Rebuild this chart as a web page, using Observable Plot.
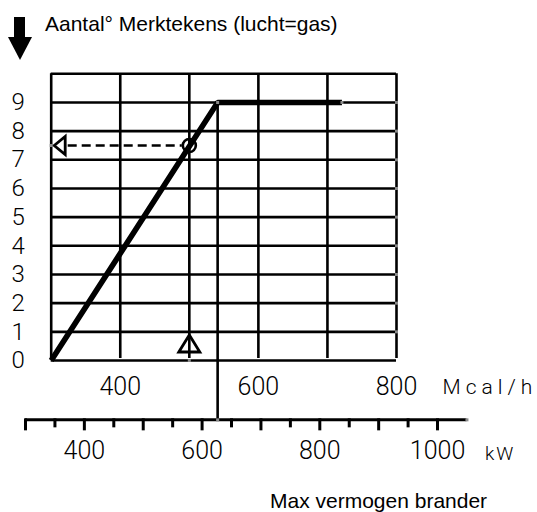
<!DOCTYPE html>
<html>
<head>
<meta charset="utf-8">
<script src="https://cdn.jsdelivr.net/npm/d3@7"></script>
<script src="https://cdn.jsdelivr.net/npm/@observablehq/plot@0.6"></script>
<style>
  body { margin: 0; background: #fff; }
  #wrap { position: relative; width: 537px; height: 512px; overflow: hidden; background: #fff; }
  #wrap svg { position: absolute; left: 0; top: 0; }
  .lbl { position: absolute; font-family: "Liberation Sans", Arial, sans-serif; font-size: 21px; line-height: 1; color: #000; white-space: nowrap; }
  #title { left: 45px; top: 13px; }
  #caption { left: 270px; top: 490px; }
  #arrow-shaft { position: absolute; left: 13.5px; top: 17px; width: 11.5px; height: 21px; background: #000; }
  #arrow-head { position: absolute; left: 7.5px; top: 37px; width: 0; height: 0;
    border-left: 12px solid transparent; border-right: 12px solid transparent; border-top: 23px solid #000; }
</style>
</head>
<body>
<div id="wrap">
  <div id="arrow-shaft"></div>
  <div id="arrow-head"></div>
  <div class="lbl" id="title">Aantal° Merktekens (lucht=gas)</div>
  <div class="lbl" id="caption">Max vermogen brander</div>
</div>
<script>
// ---- data ----
const markLevels = [0, 1, 2, 3, 4, 5, 6, 7, 8, 9, 10];      // horizontal grid lines
const markTickLabels = [0, 1, 2, 3, 4, 5, 6, 7, 8, 9];      // "Aantal° Merktekens"
const mcalGrid = [300, 400, 500, 600, 700, 800];           // vertical grid lines (Mcal/h)
const mcalTickLabels = [400, 600, 800];
const kwTicksMajor = [300, 400, 500, 600, 700, 800, 900, 1000];
const kwTicksMinor = [350, 450, 550, 650, 750, 850, 950];
const kwTickLabels = [400, 600, 800, 1000];
const kwAxisRange = [300, 1050];
const curveMcal = [300, 541, 721];                         // burner curve
const curveMarks = [0, 9, 9];
const readingMcal = 500;                                   // example reading
const readingMarks = 7.5;
const mcalUnit = "Mcal/h";
const kwUnit = "kW";
const kwAxisLevel = -2.07;                                 // kW scale drawn below the grid
// alignment of the kW scale with the Mcal/h scale (as drawn in the chart)
const kwToMcal = d3.scaleLinear([300, 1000], [262.8, 859.4]);

// ---- derived tables ----
const curve = curveMcal.map((x, i) => ({x, y: curveMarks[i]}));
const kink = curve[1];
const lineEnds = [
  ...markLevels.slice(1, 10).map(y => ({x: 800, y})),
  curve[1], curve[2],
  {x: readingMcal, y: 0}, {x: 300, y: readingMarks},
  {x: kink.x, y: kwAxisLevel}, {x: kwToMcal(kwAxisRange[1]), y: kwAxisLevel}
];

const numFont = "Roboto, 'DejaVu Sans', sans-serif";
const numWeight = 300;

const upTriangle = {draw(ctx) { ctx.moveTo(-10.5, -8.5); ctx.lineTo(0, -25.5); ctx.lineTo(10.5, -8.5); ctx.closePath(); }};
const leftTriangle = {draw(ctx) { ctx.moveTo(0, 0); ctx.lineTo(11, -9); ctx.lineTo(11, 9); ctx.closePath(); }};

const plot = Plot.plot({
  width: 537,
  height: 512,
  margin: 0,
  x: {domain: [300, 800], range: [50.7, 396], axis: null},
  y: {domain: [0, 10], range: [360, 73.3], axis: null},
  style: {background: "transparent", overflow: "visible"},
  marks: [
    // grid
    Plot.ruleY(markLevels, {x1: 300, x2: 800, stroke: "#000", strokeWidth: 2.6}),
    Plot.ruleX(mcalGrid, {y1: 0, y2: 10, insetTop: -2, stroke: "#000", strokeWidth: 2.6}),
    Plot.ruleX([kink.x], {y1: kwAxisLevel, y2: kink.y, stroke: "#000", strokeWidth: 2.6}),
    // kW scale
    Plot.ruleY([kwAxisLevel], {x1: kwToMcal(kwAxisRange[0]), x2: kwToMcal(kwAxisRange[1]), stroke: "#000", strokeWidth: 3}),
    Plot.ruleX(kwTicksMajor, {x: d => kwToMcal(d), y1: kwAxisLevel, y2: kwAxisLevel, insetTop: -1, insetBottom: -11, stroke: "#000", strokeWidth: 3}),
    Plot.ruleX(kwTicksMinor, {x: d => kwToMcal(d), y1: kwAxisLevel, y2: kwAxisLevel, insetTop: -1, insetBottom: -8, stroke: "#000", strokeWidth: 3}),
    // burner curve
    Plot.line(curve, {x: "x", y: "y", stroke: "#000", strokeWidth: 5.6, strokeLinejoin: "miter", strokeLinecap: "butt"}),
    // reading
    Plot.ruleY([readingMarks], {x1: 300, x2: readingMcal, insetLeft: 17, insetRight: 7, stroke: "#000", strokeWidth: 2.6, strokeDasharray: "9,5"}),
    Plot.dot([{x: readingMcal, y: readingMarks}], {x: "x", y: "y", r: 6.5, stroke: "#000", strokeWidth: 2.6, fill: "none"}),
    Plot.dot([{x: readingMcal, y: 0}], {x: "x", y: "y", r: 5, symbol: upTriangle, stroke: "#000", strokeWidth: 2.8, fill: "none"}),
    Plot.dot([{x: 300, y: readingMarks}], {x: "x", y: "y", dx: 3, r: 5, symbol: leftTriangle, stroke: "#000", strokeWidth: 2.8, fill: "none"}),
    // line-end caps
    Plot.dot(lineEnds, {x: "x", y: "y", r: 1.7, symbol: "square", fill: "#8a8a8a"}),
    // labels
    Plot.text(markTickLabels, {x: 300, y: d => d, dx: -33, text: d => String(d), fontSize: 24, fontFamily: numFont, fontWeight: numWeight, fill: "#000"}),
    Plot.text(mcalTickLabels, {x: d => d, y: 0, dy: 26, text: d => String(d), fontSize: 25, fontFamily: numFont, fontWeight: numWeight, fill: "#000"}),
    Plot.text([mcalUnit], {x: 800, y: 0, dx: 46, dy: 27, text: d => d, textAnchor: "start", fontSize: 21, fontFamily: numFont, fontWeight: numWeight, fill: "#000"}),
    Plot.text(kwTickLabels, {x: d => kwToMcal(d), y: kwAxisLevel, dy: 31, text: d => String(d), fontSize: 25, fontFamily: numFont, fontWeight: numWeight, fill: "#000"}),
    Plot.text([kwUnit], {x: kwToMcal(kwAxisRange[1]), y: kwAxisLevel, dx: 18, dy: 34, text: d => d, textAnchor: "start", fontSize: 19, fontFamily: numFont, fontWeight: numWeight, fill: "#000"})
  ]
});

d3.select(plot).selectAll("text").filter(function () { return this.textContent === mcalUnit; }).style("letter-spacing", "5px");
d3.select(plot).selectAll("text").filter(function () { return this.textContent === kwUnit; }).style("letter-spacing", "2px");

document.getElementById("wrap").prepend(plot);
</script>
</body>
</html>
